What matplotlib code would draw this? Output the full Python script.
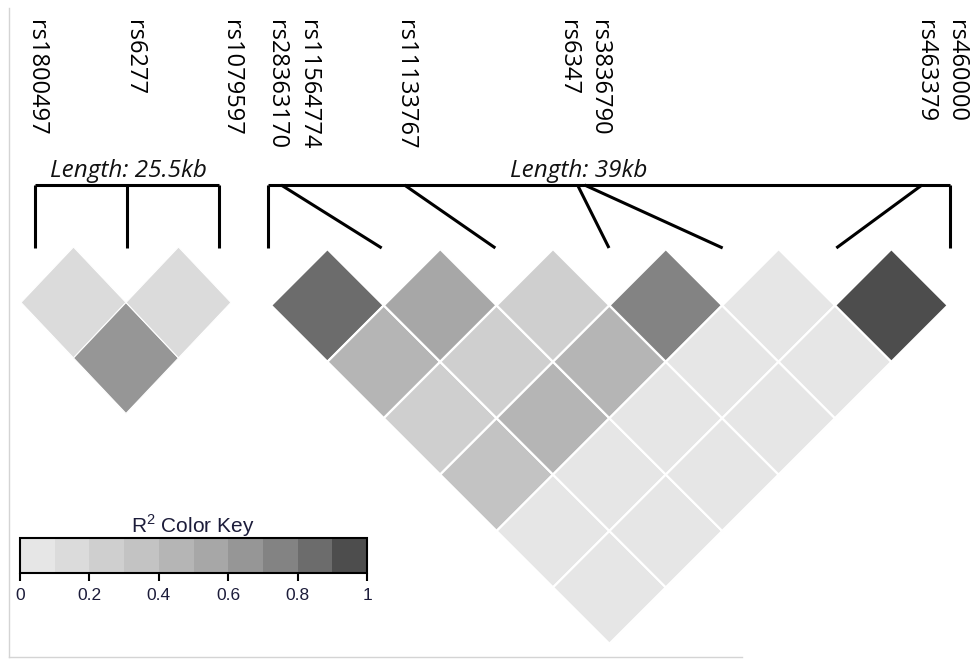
import numpy as np
import matplotlib
matplotlib.use('Agg')
import matplotlib.pyplot as plt
from matplotlib.collections import PolyCollection
from matplotlib.colors import ListedColormap, BoundaryNorm
import matplotlib.colorbar as mcolorbar

# --- data -------------------------------------------------------------
snps_a = ['rs1800497', 'rs6277', 'rs1079597']
snps_b = ['rs28363170', 'rs11564774', 'rs11133767', 'rs6347',
          'rs3836790', 'rs463379', 'rs460000']

# physical position of each SNP inside its block (kb)
pos_a = [0.0, 12.75, 25.5]
pos_b = [0.0, 0.75, 7.8, 17.7, 18.1, 37.4, 39.0]

length_a = 'Length: 25.5kb'
length_b = 'Length: 39kb'

# pairwise R^2, upper triangle only (row i, col j > i)
nan = np.nan
r2_a = [[nan, 0.15, 0.65],
        [nan, nan, 0.15],
        [nan, nan, nan]]
r2_b = [[nan, 0.85, 0.45, 0.25, 0.35, 0.05, 0.05],
        [nan, nan, 0.55, 0.25, 0.45, 0.05, 0.05],
        [nan, nan, nan, 0.25, 0.45, 0.05, 0.05],
        [nan, nan, nan, nan, 0.75, 0.05, 0.05],
        [nan, nan, nan, nan, nan, 0.05, 0.05],
        [nan, nan, nan, nan, nan, nan, 0.95],
        [nan, nan, nan, nan, nan, nan, nan]]

key_ticks = [0, 0.2, 0.4, 0.6, 0.8, 1]

# --- colours (grey.colors(10) style, reversed) -------------------------
lev = np.linspace(0.3 ** 2.2, 0.9 ** 2.2, 10) ** (1 / 2.2)
cmap = ListedColormap([(g, g, g) for g in lev[::-1]])
norm = BoundaryNorm(np.linspace(0, 1, 11), cmap.N)

plt.rcParams['font.family'] = ['Open Sans', 'DejaVu Sans']
plt.rcParams['mathtext.fontset'] = 'custom'
plt.rcParams['mathtext.rm'] = 'Liberation Sans'

fig = plt.figure(figsize=(9.75, 6.64), dpi=100)
ax = fig.add_axes([0, 0, 1, 1])
ax.set_xlim(0, 975)
ax.set_ylim(664, 0)
ax.axis('off')


def diamonds(mat, x0, y0, hx, hy):
    mat = np.asarray(mat)
    n = mat.shape[0]
    verts, vals = [], []
    for i in range(n):
        for j in range(i + 1, n):
            cx = x0 + (i + j) * hx
            cy = y0 + (j - i) * hy
            verts.append([(cx - hx, cy), (cx, cy - hy), (cx + hx, cy), (cx, cy + hy)])
            vals.append(mat[i, j])
    return verts, np.array(vals)


def block(mat, pos, names, label, x0, y0, hx, hy, lw_edge,
          bar_l, bar_r, lab_off, len_x):
    verts, vals = diamonds(mat, x0, y0, hx, hy)
    pc = PolyCollection(verts, cmap=cmap, norm=norm, edgecolors='white',
                        linewidths=lw_edge)
    pc.set_array(vals)
    ax.add_collection(pc)

    bar_y, diag_y = 185, 248
    n = len(pos)
    pos = np.asarray(pos)
    px = bar_l + (pos - pos[0]) / (pos[-1] - pos[0]) * (bar_r - bar_l)
    dx = np.linspace(bar_l, bar_r, n)
    ax.plot([bar_l, bar_r], [bar_y, bar_y], color='black', lw=2.2,
            solid_capstyle='butt')
    for k in range(n):
        ax.plot([px[k], dx[k]], [bar_y, diag_y], color='black', lw=2.2,
                solid_capstyle='butt')
        ax.text(px[k] + lab_off[k], 20, names[k], rotation=270,
                ha='center', va='top', fontsize=17, color='black')
    ax.text(len_x, 177, label, ha='center', va='baseline', fontsize=17.5,
            style='italic', color='#111111')


block(r2_a, pos_a, snps_a, length_a, x0=21, y0=247, hx=52.5, hy=55.5,
      lw_edge=0.8, bar_l=35, bar_r=219, lab_off=[1, 7, 12], len_x=128)
block(r2_b, pos_b, snps_b, length_b, x0=271, y0=249, hx=56.4, hy=56.4,
      lw_edge=1.6, bar_l=268, bar_r=950,
      lab_off=[8, 27, 1, -10, 14, 3, 6], len_x=579)

# screenshot frame
ax.plot([9, 9], [8, 657], color='#d4d4d4', lw=1)
ax.plot([9, 742], [657, 657], color='#d4d4d4', lw=1)

# colour key
cax = fig.add_axes([20 / 975, 1 - 573 / 664, 347 / 975, 35 / 664])
cb = mcolorbar.ColorbarBase(cax, cmap=cmap, norm=norm, orientation='horizontal',
                            ticks=key_ticks)
cb.outline.set_linewidth(1.5)
cax.minorticks_off()
cax.set_xticklabels([f'{t:g}' for t in key_ticks], family='Liberation Sans',
                    fontsize=12.5, color='#1c1c3a')
cax.tick_params(axis='x', direction='out', length=6, width=1.5, pad=5)
fig.text(193 / 975, 1 - 533 / 664, 'R$^2$ Color Key', ha='center',
         va='baseline', family='Liberation Sans', fontsize=15, color='#1c1c3a')

fig.savefig('out.png', dpi=100)
